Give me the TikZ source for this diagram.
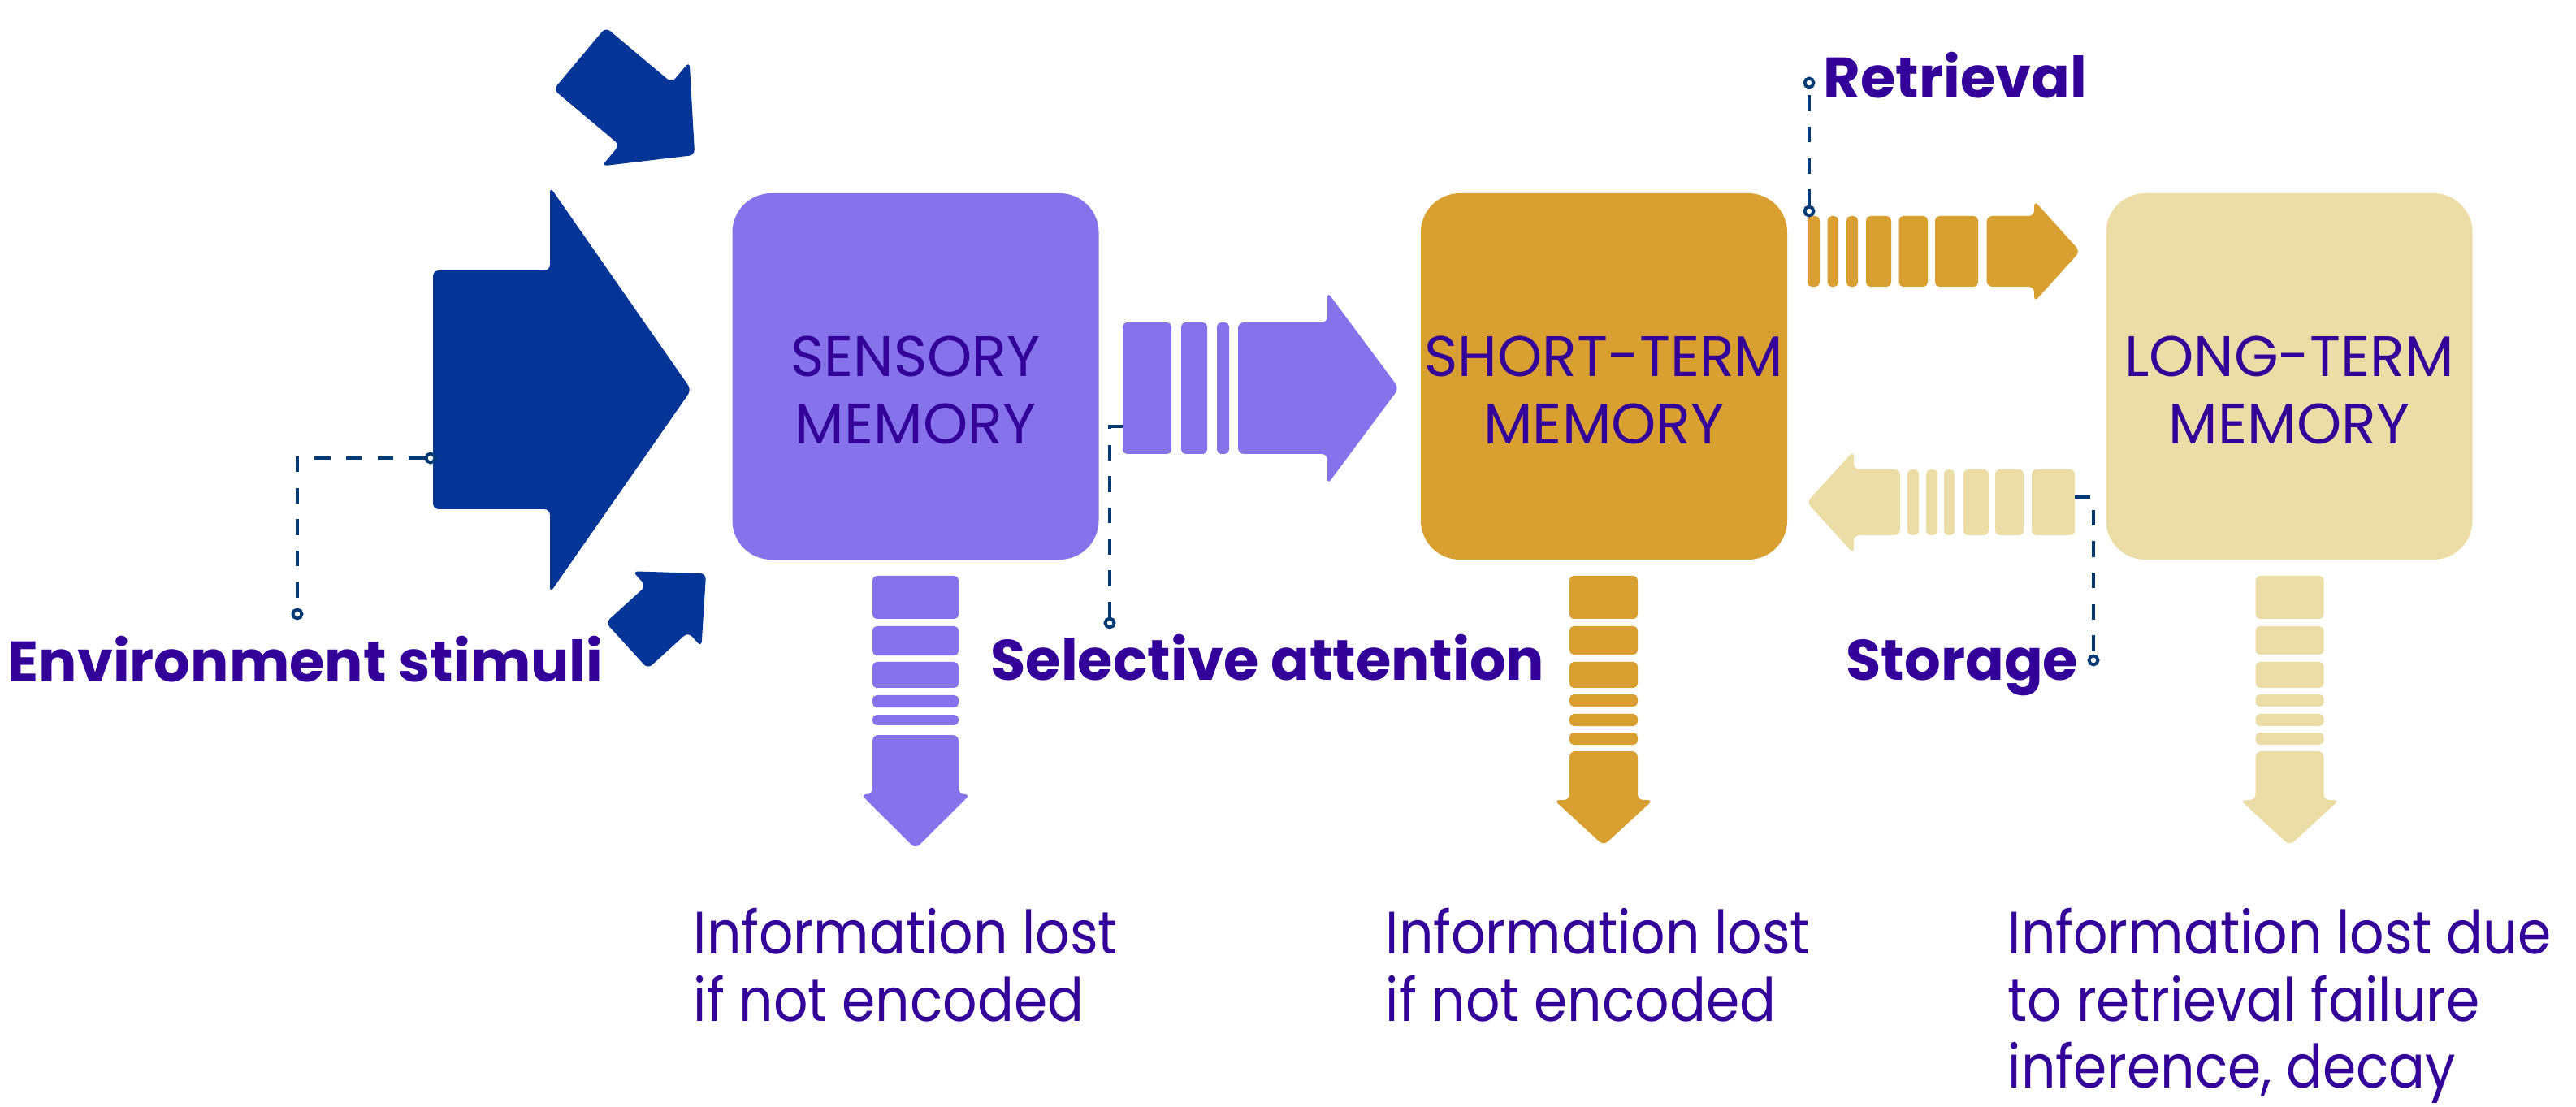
\documentclass[tikz,border=0pt]{standalone}
\usepackage{fontspec}
\setmainfont{Poppins}
\newfontfamily\narrowfamily[FakeStretch=0.9]{Poppins}
\usetikzlibrary{calc}

\definecolor{ink}{HTML}{330099}
\definecolor{navy}{HTML}{003A75}
\definecolor{stimblue}{HTML}{063598}
\definecolor{sensecol}{HTML}{8673EC}
\definecolor{shortcol}{HTML}{D9A031}
\definecolor{longcol}{HTML}{ECDDA6}

\newcommand{\boxfont}{\fontsize{20}{23.6}\selectfont}
\newcommand{\tagfont}{\fontsize{20}{24}\selectfont\bfseries}
\newcommand{\lostfont}{\narrowfamily\fontsize{21}{23.6}\selectfont}

% fill colour, origin, rotation, shaft length, shaft half width, head length, head half width
\newcommand{\fatarrow}[7]{%
  \fill[#1,rounded corners=2pt,shift={#2},rotate=#3]
    (0,-#5) -- (#4,-#5) -- (#4,-#7) -- ({#4+#6},0) -- (#4,#7) -- (#4,#5) -- (0,#5) -- cycle;}

\tikzset{
  mem/.style={rounded corners=0.48cm,minimum width=4.51cm,minimum height=4.51cm,inner sep=0pt},
  memtext/.style={text=ink,font=\boxfont,align=center,inner sep=0pt},
  tagtext/.style={text=ink,font=\tagfont,anchor=base west,inner sep=0pt},
  lost/.style={text=ink,font=\lostfont,align=left,anchor=north west,inner sep=0pt},
  lead/.style={draw=navy,line width=1.1pt,dash pattern=on 5.5pt off 5.5pt},
  dot/.style={circle,draw=navy,fill=white,line width=1.1pt,inner sep=0pt,minimum size=0.11cm}
}

\begin{document}
\begin{tikzpicture}
  \useasboundingbox (0,0) rectangle (31.71,-13.63);

  % stimuli coming in
  \fatarrow{stimblue}{(5.33,-4.80)}{0}{1.44}{1.47}{1.74}{2.50};
  \fatarrow{stimblue}{(7.135,-0.72)}{-40}{1.06}{0.50}{0.79}{0.84};
  \fatarrow{stimblue}{(7.715,-7.95)}{42.3}{0.67}{0.385}{0.65}{0.63};

  % the three stores
  \node[mem,fill=sensecol] (sensory) at (11.27,-4.635) {};
  \node[mem,fill=shortcol] (short) at (19.745,-4.635) {};
  \node[mem,fill=longcol] (long) at (28.18,-4.635) {};
  \node[memtext] (sensorytext) at (11.27,-4.805) {SENSORY\\MEMORY};
  \node[memtext] (shorttext) at (19.745,-4.805) {SHORT-TERM\\MEMORY};
  \node[memtext] (longtext) at (28.18,-4.805) {LONG-TERM\\MEMORY};

  % sensory -> short-term
  \foreach \a/\b in {13.82/14.42,14.54/14.86,14.98/15.13}
    \fill[sensecol,rounded corners=1.5pt] (\a,-3.97) rectangle (\b,-5.59);
  \fatarrow{sensecol}{(15.24,-4.78)}{0}{1.10}{0.81}{0.88}{1.185};

  % retrieval and storage
  \foreach \a/\b in {22.25/22.40,22.495/22.63,22.73/22.87,22.97/23.28,23.375/23.73,23.82/24.35}
    \fill[shortcol,rounded corners=1.5pt] (\a,-2.66) rectangle (\b,-3.53);
  \fatarrow{shortcol}{(24.455,-3.095)}{0}{0.585}{0.435}{0.565}{0.625};
  \foreach \a/\b in {23.48/23.62,23.71/23.85,23.93/24.06,24.17/24.48,24.56/24.91,25.01/25.54}
    \fill[longcol,rounded corners=1.5pt] (\a,-5.78) rectangle (\b,-6.59);
  \fatarrow{longcol}{(23.39,-6.185)}{180}{0.57}{0.405}{0.58}{0.635};

  % information lost
  \foreach \a/\b in {7.09/7.62,7.71/8.07,8.15/8.47,8.56/8.71,8.80/8.93}
    \fill[sensecol,rounded corners=1.5pt] (10.74,-\a) rectangle (11.80,-\b);
  \fatarrow{sensecol}{(11.27,-9.05)}{-90}{0.73}{0.53}{0.67}{0.675};
  \foreach \x/\c in {19.74/shortcol,28.185/longcol}{
    \foreach \a/\b in {7.09/7.62,7.71/8.06,8.15/8.47,8.55/8.70,8.79/8.94,9.02/9.17}
      \fill[\c,rounded corners=1.5pt] (\x-0.42,-\a) rectangle (\x+0.42,-\b);
    \fatarrow{\c}{(\x,-9.25)}{-90}{0.60}{0.42}{0.56}{0.61};
  }

  % leader lines
  \node[dot] (envdot) at (5.30,-5.64) {};
  \node[dot] (envend) at (3.66,-7.56) {};
  \draw[lead] (envdot) -| (envend);
  \coordinate (selstart) at (13.82,-5.25);
  \node[dot] (selend) at (13.66,-7.67) {};
  \draw[lead] (selstart) -| (selend);
  \node[dot] (retstart) at (22.27,-2.60) {};
  \node[dot] (retend) at (22.27,-1.02) {};
  \draw[lead] (retstart) -- (retend);
  \coordinate (stostart) at (25.54,-6.12);
  \node[dot] (stoend) at (25.77,-8.13) {};
  \draw[lead] (stostart) -| (stoend);

  \node[tagtext] (envlabel) at (0.09,-8.39) {Environment stimuli};
  \node[tagtext] (sellabel) at (12.19,-8.37) {Selective attention};
  \node[tagtext] (retlabel) at (22.44,-1.21) {Retrieval};
  \node[tagtext] (stolabel) at (22.72,-8.37) {Storage};

  \node[lost] (senslost) at (8.53,-11.17) {Information lost\\if not encoded};
  \node[lost] (shortlost) at (17.05,-11.17) {Information lost\\if not encoded};
  \node[lost] (longlost) at (24.71,-11.17) {Information lost due\\to retrieval failure\\inference, decay};
\end{tikzpicture}
\end{document}
